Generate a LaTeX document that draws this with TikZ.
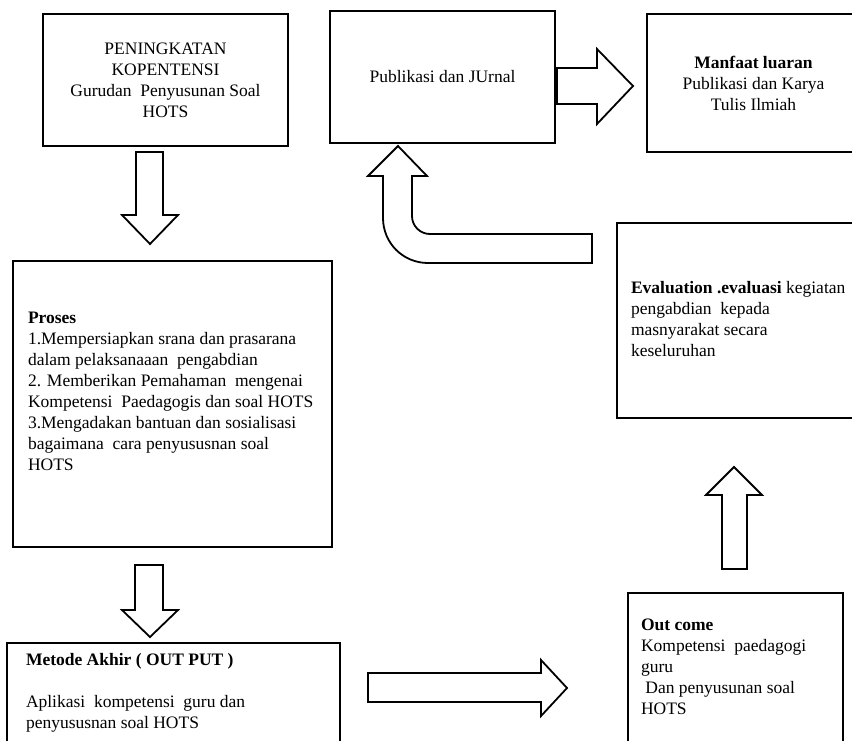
\documentclass[tikz,border=0pt]{standalone}
\usepackage{fontspec}
\setmainfont{Liberation Serif}
\usetikzlibrary{positioning}

\tikzset{
  box/.style={draw, line width=2.4pt, inner sep=0pt, align=center,
    font=\fontsize{17.5}{21}\selectfont},
  txt/.style={inner sep=0pt, align=left, anchor=north west,
    font=\fontsize{17.5}{21}\selectfont},
  blockarrow/.style={draw, line width=1.8pt, line join=miter}
}

\begin{document}
\begin{tikzpicture}[x=1pt,y=-1pt]
\useasboundingbox (0,0) rectangle (852,740);
\clip (0,0) rectangle (852,740);

% top row
\node[box, minimum width=245pt, minimum height=132pt] (peningkatan) at (165.5,80)
  {PENINGKATAN\\KOPENTENSI\\Gurudan\ \ Penyusunan Soal\\HOTS};
\node[box, minimum width=225pt, minimum height=132pt] (publikasi) at (442.5,77)
  {Publikasi dan JUrnal};
\node[box, minimum width=213pt, minimum height=138pt] (manfaat) at (753.5,83)
  {\textbf{Manfaat luaran}\\Publikasi dan Karya\\Tulis Ilmiah};

% middle
\node[box, minimum width=319pt, minimum height=286pt] (proses) at (172.5,404) {};
\node[txt] (prosestext) at ([xshift=16pt,yshift=-52pt]proses.north west)
  {\textbf{Proses}\\
   1.Mempersiapkan srana dan prasarana\\
   dalam pelaksanaaan\ \ pengabdian\\
   2. Memberikan Pemahaman\ \ mengenai\\
   Kompetensi\ \ Paedagogis dan soal HOTS\\
   3.Mengadakan bantuan dan sosialisasi\\
   bagaimana\ \ cara penyususnan soal\\
   HOTS};
\node[box, minimum width=245pt, minimum height=195pt] (evaluasi) at (739.5,320.5) {};
\node[txt] (evaluasitext) at ([xshift=15pt,yshift=-59pt]evaluasi.north west)
  {\textbf{Evaluation .evaluasi} kegiatan\\
   pengabdian\ \ kepada\\
   masnyarakat secara\\
   keseluruhan};

% bottom row
\node[box, minimum width=333pt, minimum height=117pt] (metode) at (173.5,701.5) {};
\node[txt] (metodetext) at ([xshift=20pt,yshift=-11pt]metode.north west)
  {\textbf{Metode Akhir ( OUT PUT )}\\[21pt]
   Aplikasi\ \ kompetensi\ \ guru dan\\
   penyususnan soal HOTS};
\node[box, minimum width=215pt, minimum height=167pt] (outcome) at (735.5,676.5) {};
\node[txt] (outcometext) at ([xshift=14pt,yshift=-27pt]outcome.north west)
  {\textbf{Out come}\\
   Kompetensi\ \ paedagogi\\
   guru\\
   \ Dan penyusunan soal\\
   HOTS};

% block arrows
\draw[blockarrow] (136,152) -- (163,152) -- (163,215) -- (178,215) -- (150,244)
  -- (122,215) -- (136,215) -- cycle;
\draw[blockarrow] (135,565) -- (163,565) -- (163,610) -- (178,610) -- (150,637)
  -- (122,610) -- (135,610) -- cycle;
\draw[blockarrow] (368,673) -- (541,673) -- (541,660) -- (567,688) -- (541,716)
  -- (541,702) -- (368,702) -- cycle;
\draw[blockarrow] (722,569) -- (722,495) -- (706,495) -- (734,467) -- (762,495)
  -- (747,495) -- (747,569) -- cycle;
\draw[blockarrow] (557,68) -- (597,68) -- (597,49) -- (633,86) -- (597,124)
  -- (597,104) -- (557,104) -- cycle;
\draw[blockarrow] (398,146) -- (427,176) -- (412,176) -- (412,216)
  .. controls (412,226) and (420,234) .. (430,234) -- (592,234) -- (592,263)
  -- (428,263) .. controls (403,263) and (383,243) .. (383,218)
  -- (383,176) -- (368,176) -- cycle;

\end{tikzpicture}
\end{document}
